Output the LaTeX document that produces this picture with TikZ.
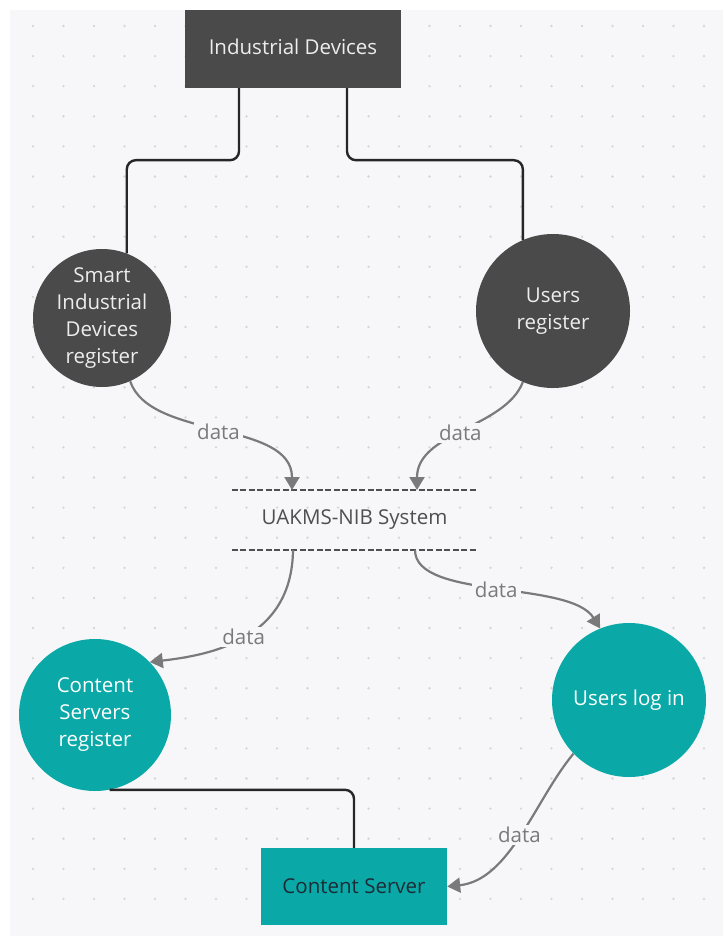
\documentclass[tikz,border=0pt]{standalone}
\usepackage{fontspec}
\setmainfont{Open Sans}
\usetikzlibrary{arrows.meta,calc}

\definecolor{paper}{HTML}{F7F7F9}
\definecolor{griddot}{HTML}{D6D6D8}
\definecolor{charcoal}{HTML}{4A4A4A}
\definecolor{tealfill}{HTML}{0AA9A7}
\definecolor{flowgray}{HTML}{7A7A7A}
\definecolor{linkdark}{HTML}{262626}
\definecolor{softwhite}{HTML}{EDEDED}
\definecolor{inkdark}{HTML}{1D2B36}
\definecolor{sysline}{HTML}{4F4F4F}

\tikzset{
  txt/.style={font=\fontsize{20.5}{27}\selectfont, align=center, inner sep=0pt},
  darkbox/.style={txt, fill=charcoal, text=softwhite},
  tealbox/.style={txt, fill=tealfill, text=inkdark},
  darkdisc/.style={txt, circle, fill=charcoal, text=softwhite},
  tealdisc/.style={txt, circle, fill=tealfill, text=white},
  link/.style={draw=linkdark, line width=2.4pt, rounded corners=9pt},
  flow/.style={draw=flowgray, line width=2.2pt,
    -{Triangle[length=13pt,width=15pt]}},
  lbl/.style={txt, fill=paper, text=flowgray, inner xsep=3pt, inner ysep=2pt},
  sysedge/.style={draw=sysline, line width=1.8pt, dash pattern=on 6pt off 2.5pt},
}

\begin{document}
\begin{tikzpicture}[x=1pt, y=-1pt]
  \useasboundingbox (0,0) rectangle (723,936);
  \fill[white] (0,0) rectangle (723,936);
  \fill[paper] (10,10) rectangle (723,936);
  % dotted canvas
  \foreach \i in {0,...,22}
    \foreach \j in {0,...,29}
      \fill[griddot] (33+\i*30.5, 26+\j*30.1) circle (1.3pt);

  % nodes
  \node[darkbox, minimum width=216pt, minimum height=78pt] (ind) at (293,49) {\raisebox{4pt}{Industrial Devices}};
  \node[darkdisc, minimum size=138pt] (sidr) at (102,318) {Smart\\Industrial\\Devices\\register};
  \node[darkdisc, minimum size=154pt] (ureg) at (553,311) {Users\\register};
  \node[txt, minimum width=245pt, minimum height=60pt, text=sysline] (sys) at (354.5,520) {UAKMS-NIB System};
  \node[tealdisc, minimum size=152pt] (csr) at (95,715) {Content\\Servers\\register};
  \node[tealdisc, minimum size=154pt] (ulog) at (629,700) {Users log in};
  \node[tealbox, minimum width=186pt, minimum height=77pt] (cs) at (354,886.5) {Content Server};

  % system boundary lines
  \draw[sysedge] (sys.north west) -- (sys.north east);
  \draw[sysedge] (sys.south west) -- (sys.south east);
  \coordinate (in1) at (292,490);
  \coordinate (in2) at (417,490);
  \coordinate (out1) at (293,550);
  \coordinate (out2) at (415,550);

  % solid links
  \draw[link] ([xshift=-54pt]ind.south) -- ++(0,72) -| (sidr.69);
  \draw[link] ([xshift=54pt]ind.south) -- ++(0,72) -| (ureg.113);
  \draw[link] (csr.-79) -| (cs.north);

  % data flows
  \draw[flow] (sidr.-66) .. controls (150,440) and (292,420) .. node[lbl, pos=0.5] {data} (in1);
  \draw[flow] (ureg.-113) .. controls (505,428) and (417,432) .. node[lbl, pos=0.52] {data} (in2);
  \draw[flow] (out1) .. controls (292,640) and (210,655) .. node[lbl, pos=0.5] {data} (csr.44);
  \draw[flow] (out2) .. controls (415,600) and (570,580) .. node[lbl, pos=0.5] {data} (ulog.112);
  \draw[flow] (ulog.-136) .. controls (535,800) and (510,880) .. node[lbl, pos=0.5] {data} (cs.east);
\end{tikzpicture}
\end{document}
